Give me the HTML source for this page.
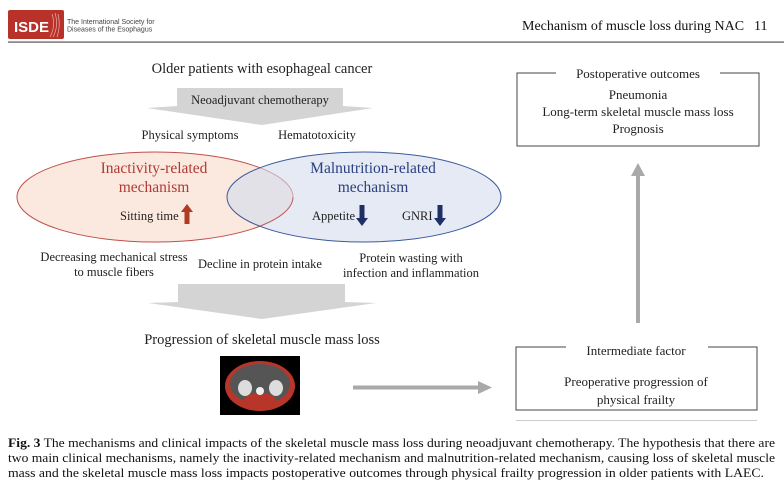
<!DOCTYPE html>
<html><head><meta charset="utf-8"><style>
html,body{margin:0;padding:0;background:#fff;}
svg{display:block;}
text{font-family:"Liberation Serif",serif;fill:#222;}
</style></head><body>
<svg width="784" height="489" viewBox="0 0 784 489" xmlns="http://www.w3.org/2000/svg">
<!-- header -->
<rect x="8" y="10" width="56" height="29" rx="2" fill="#b8322a"/>
<text x="14" y="32" style="font-family:'Liberation Sans',sans-serif;font-weight:bold;font-size:15px;fill:#fff">ISDE</text>
<path d="M52 14 Q56 26 50 37 M55 13 Q59 26 53 37 M58 14 Q61 26 57 37" stroke="#e8b0a8" stroke-width="0.7" fill="none"/>
<text x="67" y="24" style="font-family:'Liberation Sans',sans-serif;font-size:7px;fill:#444">The International Society for</text>
<text x="67" y="31.5" style="font-family:'Liberation Sans',sans-serif;font-size:7px;fill:#444">Diseases of the Esophagus</text>
<rect x="8" y="41.5" width="776" height="1.2" fill="#555"/>
<text x="522" y="30" style="font-size:14px;fill:#111">Mechanism of muscle loss during NAC</text>
<text x="754" y="30" style="font-size:14px;fill:#111">11</text>

<!-- top -->
<text x="262" y="73" text-anchor="middle" style="font-size:14.5px">Older patients with esophageal cancer</text>
<polygon points="177,88 343,88 343,106 373,108 262,125 147,108 177,106" fill="#d4d4d4"/>
<text x="260" y="104" text-anchor="middle" style="font-size:12.5px">Neoadjuvant chemotherapy</text>
<text x="190" y="139" text-anchor="middle" style="font-size:12.5px">Physical symptoms</text>
<text x="317" y="139" text-anchor="middle" style="font-size:12.5px">Hematotoxicity</text>

<!-- ellipses -->
<ellipse cx="155" cy="197" rx="138" ry="45" fill="#fbe9df" stroke="#c0504d" stroke-width="1"/>
<ellipse cx="364" cy="197" rx="137" ry="45" fill="#d3dcef" fill-opacity="0.6" stroke="#3d5a99" stroke-width="1"/>
<path d="M293 197 A138 45 0 0 1 260 226" fill="none" stroke="#c0504d" stroke-width="0.8"/>
<text x="154" y="173" text-anchor="middle" style="font-size:15.5px;fill:#b03a32">Inactivity-related</text>
<text x="154" y="192" text-anchor="middle" style="font-size:15.5px;fill:#b03a32">mechanism</text>
<text x="120" y="220" style="font-size:12.5px">Sitting time</text>
<polygon points="187,204 193,212 189.5,212 189.5,224 184.5,224 184.5,212 181,212" fill="#b03a22"/>
<text x="373" y="173" text-anchor="middle" style="font-size:15.5px;fill:#2a3f80">Malnutrition-related</text>
<text x="373" y="192" text-anchor="middle" style="font-size:15.5px;fill:#2a3f80">mechanism</text>
<text x="312" y="220" style="font-size:12.5px">Appetite</text>
<polygon points="362,226 368,218 364.5,218 364.5,205 359.5,205 359.5,218 356,218" fill="#1f2f66"/>
<text x="402" y="220" style="font-size:12.5px">GNRI</text>
<polygon points="440,226 446,218 442.5,218 442.5,205 437.5,205 437.5,218 434,218" fill="#1f2f66"/>

<text x="114" y="261" text-anchor="middle" style="font-size:12.5px">Decreasing mechanical stress</text>
<text x="114" y="276" text-anchor="middle" style="font-size:12.5px">to muscle fibers</text>
<text x="260" y="268" text-anchor="middle" style="font-size:12.5px">Decline in protein intake</text>
<text x="411" y="262" text-anchor="middle" style="font-size:12.5px">Protein wasting with</text>
<text x="411" y="277" text-anchor="middle" style="font-size:12.5px">infection and inflammation</text>

<polygon points="178,284 345,284 345,302 376,303 262,319 148,303 178,302" fill="#d4d4d4"/>
<text x="262" y="344" text-anchor="middle" style="font-size:14.5px">Progression of skeletal muscle mass loss</text>

<!-- CT image -->
<rect x="220" y="356" width="80" height="59" fill="#000"/>
<ellipse cx="260" cy="386" rx="35" ry="25" fill="#b8352a"/>
<ellipse cx="260" cy="384" rx="30" ry="20" fill="#555"/>
<ellipse cx="245" cy="388" rx="7" ry="8" fill="#ddd"/>
<ellipse cx="276" cy="388" rx="7" ry="8" fill="#ddd"/>
<ellipse cx="260" cy="400" rx="16" ry="7" fill="#b8352a"/>
<circle cx="260" cy="391" r="4" fill="#eee"/>

<!-- horizontal arrow -->
<rect x="353" y="385.5" width="127" height="4" fill="#a9a9a9"/>
<polygon points="478,381 492,387.5 478,394" fill="#a9a9a9"/>

<!-- right boxes -->
<path d="M556 73 H517 V146 H759 V73 H720" fill="none" stroke="#444" stroke-width="1"/>
<text x="638" y="78" text-anchor="middle" style="font-size:13px">Postoperative outcomes</text>
<text x="638" y="99" text-anchor="middle" style="font-size:13px">Pneumonia</text>
<text x="638" y="116" text-anchor="middle" style="font-size:13px">Long-term skeletal muscle mass loss</text>
<text x="638" y="133" text-anchor="middle" style="font-size:13px">Prognosis</text>

<rect x="636" y="175" width="4" height="148" fill="#a9a9a9"/>
<polygon points="631,176 638,163 645,176" fill="#a9a9a9"/>

<path d="M566 347 H516 V410 H757 V347 H708" fill="none" stroke="#444" stroke-width="1"/>
<text x="636" y="355" text-anchor="middle" style="font-size:13px">Intermediate factor</text>
<text x="636" y="386" text-anchor="middle" style="font-size:13px">Preoperative progression of</text>
<text x="636" y="404" text-anchor="middle" style="font-size:13px">physical frailty</text>

<!-- caption -->
<rect x="516" y="420" width="241" height="1" fill="#ccc"/>
<text x="8" y="447" textLength="767" lengthAdjust="spacingAndGlyphs" style="font-size:12.5px;fill:#111"><tspan font-weight="bold">Fig. 3</tspan>  The mechanisms and clinical impacts of the skeletal muscle mass loss during neoadjuvant chemotherapy. The hypothesis that there are</text>
<text x="8" y="462" textLength="767" lengthAdjust="spacingAndGlyphs" style="font-size:12.5px;fill:#111">two main clinical mechanisms, namely the inactivity-related mechanism and malnutrition-related mechanism, causing loss of skeletal muscle</text>
<text x="8" y="477" textLength="756" lengthAdjust="spacingAndGlyphs" style="font-size:12.5px;fill:#111">mass and the skeletal muscle mass loss impacts postoperative outcomes through physical frailty progression in older patients with LAEC.</text>
</svg>
</body></html>
